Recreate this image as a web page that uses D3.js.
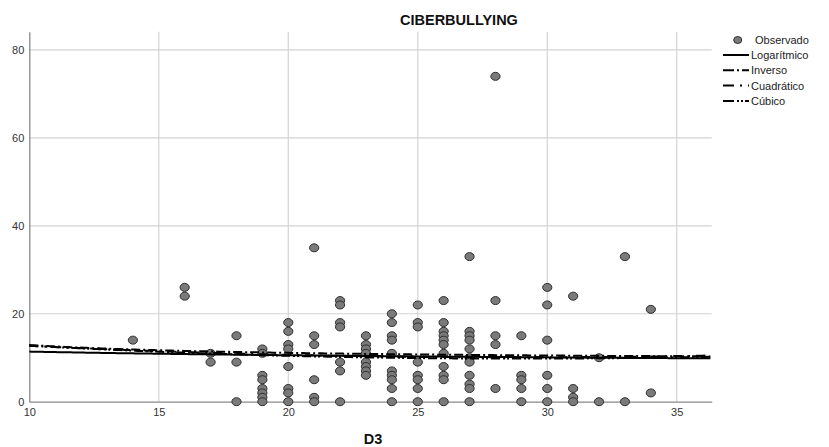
<!DOCTYPE html>
<html>
<head>
<meta charset="utf-8">
<script src="https://cdn.jsdelivr.net/npm/d3@7"></script>
<style>
  html, body { margin: 0; padding: 0; background: #fff; }
  svg { display: block; font-family: "Liberation Sans", Arial, sans-serif; }
</style>
</head>
<body>
<svg id="chart" width="829" height="447"></svg>
<script>
// ---- data ----
const title = "CIBERBULLYING";
const xLabel = "D3";
const xTicks = [10, 15, 20, 25, 30, 35];
const yTicks = [0, 20, 40, 60, 80];
const xGrid = [15, 20, 25, 30, 35];
const yGrid = [20, 40, 60, 80];

// observed points: D3 value and the list of CIBERBULLYING values at it
const obsX = [14, 16, 17, 18, 19, 20, 21, 22, 23, 24, 25, 26, 27, 28, 29, 30, 31, 32, 33, 34];
const obsY = [
  [14],
  [26, 24],
  [11, 9],
  [15, 9, 0],
  [12, 11, 6, 5, 3, 2, 1, 0],
  [18, 16, 13, 12, 8, 3, 2, 0],
  [35, 15, 13, 5, 1, 0],
  [23, 22, 18, 17, 9, 7, 0],
  [15, 13, 12, 11, 9, 8, 7, 6],
  [20, 18, 15, 14, 11, 7, 6, 5, 3, 0],
  [22, 18, 17, 9, 6, 5, 3, 0],
  [23, 18, 16, 15, 14, 13, 11, 8, 6, 5, 0],
  [33, 16, 15, 14, 12, 10, 9, 6, 4, 3, 0],
  [74, 23, 15, 13, 3],
  [15, 6, 5, 3, 0],
  [26, 22, 14, 6, 3, 0],
  [24, 3, 1, 0],
  [10, 0],
  [33, 0],
  [21, 2]
];

// fitted model coefficients (estimated from the drawn curves)
const modelNames = ["Logarítmico", "Inverso", "Cuadrático", "Cúbico"];
const logCoef = [14.15, -1.196];          // a + b ln x
const invCoef = [9.31, 35.9];             // a + b / x
const quadCoef = [16.21, -0.4244, 0.007362];          // a + b x + c x^2
const cubCoef = [16.8, -0.5, 0.0095, -0.00002];        // a + b x + c x^2 + d x^3
const legendObs = "Observado";

// ---- layout ----
const svg = d3.select("#chart");
const x = d3.scaleLinear().domain([10, 36.35]).range([29.3, 711.7]);
const y = d3.scaleLinear().domain([0, 84.15]).range([401.7, 31.7]);

// gridlines
svg.append("g").selectAll("line").data(xGrid).join("line")
  .attr("x1", d => x(d)).attr("x2", d => x(d))
  .attr("y1", y.range()[1]).attr("y2", y.range()[0])
  .attr("stroke", "#d3d3d3").attr("stroke-width", 1.2);
svg.append("g").selectAll("line").data(yGrid).join("line")
  .attr("x1", x.range()[0]).attr("x2", x.range()[1])
  .attr("y1", d => y(d)).attr("y2", d => y(d))
  .attr("stroke", "#d3d3d3").attr("stroke-width", 1.2);

// axes
const xAxis = d3.axisBottom(x).tickValues(xTicks).tickSize(0).tickPadding(7).tickFormat(d3.format("d"));
const gx = svg.append("g").attr("transform", `translate(0,${y(0)})`).call(xAxis);
gx.select(".domain").attr("stroke", "#8a8a8a").attr("stroke-width", 1.3);
gx.selectAll("text").attr("font-size", 11).attr("fill", "#333")
  .attr("font-family", "Liberation Sans, Arial, sans-serif");

const yAxis = d3.axisLeft(y).tickValues(yTicks).tickSize(0).tickPadding(5).tickFormat(d3.format("d"));
const gy = svg.append("g").attr("transform", `translate(${x(10)},0)`).call(yAxis);
gy.select(".domain").attr("stroke", "#8a8a8a").attr("stroke-width", 1.3);
gy.selectAll("text").attr("font-size", 11).attr("fill", "#333")
  .attr("font-family", "Liberation Sans, Arial, sans-serif");

// observed points
const pts = [];
obsX.forEach((xv, i) => obsY[i].forEach(v => pts.push([xv, v])));
svg.append("g").selectAll("ellipse").data(pts).join("ellipse")
  .attr("cx", d => x(d[0])).attr("cy", d => y(d[1]))
  .attr("rx", 4.6).attr("ry", 4)
  .attr("fill", "#7a7a7a").attr("stroke", "#2e2e2e").attr("stroke-width", 1);

// fitted curves
const models = [
  { f: t => logCoef[0] + logCoef[1] * Math.log(t), dash: null },
  { f: t => invCoef[0] + invCoef[1] / t, dash: "9,3,2,3" },
  { f: t => quadCoef[0] + quadCoef[1] * t + quadCoef[2] * t * t, dash: "9,6,2,6" },
  { f: t => cubCoef[0] + cubCoef[1] * t + cubCoef[2] * t * t + cubCoef[3] * t * t * t, dash: "9,3,2,2,2,3" }
];
const xs = d3.range(10, 36.35 + 0.001, 0.1);
const line = d3.line().x(d => x(d[0])).y(d => y(d[1]));
models.forEach(m => {
  svg.append("path")
    .attr("d", line(xs.map(t => [t, m.f(t)])))
    .attr("fill", "none").attr("stroke", "#000").attr("stroke-width", 2)
    .attr("stroke-dasharray", m.dash);
});

// title and axis label
svg.append("text").attr("x", 400).attr("y", 25).attr("font-size", 14.5).attr("font-weight", "bold")
  .attr("fill", "#111").text(title);
svg.append("text").attr("x", 373).attr("y", 444).attr("text-anchor", "middle")
  .attr("font-size", 14.5).attr("font-weight", "bold").attr("fill", "#111").text(xLabel);

// legend
const lg = svg.append("g");
lg.append("ellipse").attr("cx", 737.7).attr("cy", 40).attr("rx", 4).attr("ry", 3.5)
  .attr("fill", "#7a7a7a").attr("stroke", "#2e2e2e").attr("stroke-width", 1);
lg.append("text").attr("x", 755).attr("y", 44).attr("font-size", 11).attr("fill", "#222").text(legendObs);
const legDash = [null, "11,3,2,3", "11,6,2,6", "11,3,2,2,2,2"];
modelNames.forEach((name, i) => {
  const yy = 55 + i * 15.3;
  lg.append("line").attr("x1", 723).attr("x2", 749).attr("y1", yy).attr("y2", yy)
    .attr("stroke", "#000").attr("stroke-width", 2).attr("stroke-dasharray", legDash[i]);
  lg.append("text").attr("x", 751).attr("y", yy + 4).attr("font-size", 11).attr("fill", "#222").text(name);
});
</script>
</body>
</html>
